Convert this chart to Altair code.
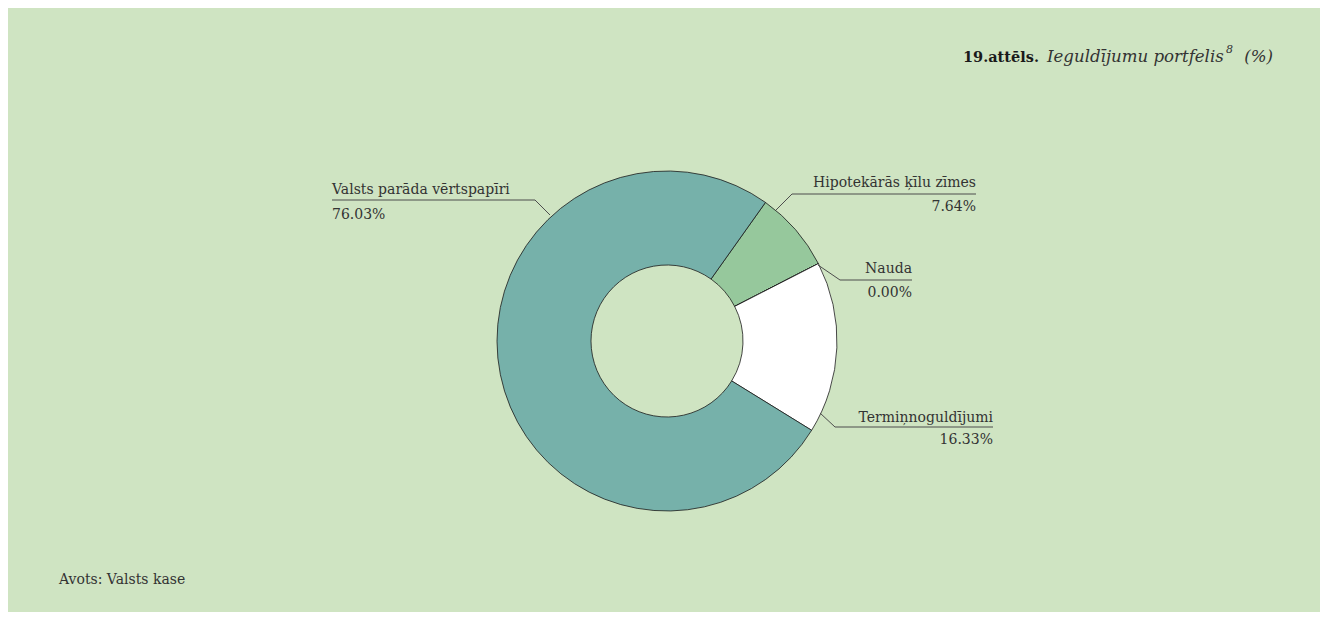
import math
import altair as alt
import pandas as pd

# ---- data ----
categories = ["Hipotekārās ķīlu zīmes", "Nauda", "Termiņnoguldījumi", "Valsts parāda vērtspapīri"]
values = [7.64, 0.00, 16.33, 76.03]
colors = ["#96c89c", "#96c89c", "#ffffff", "#76b1aa"]

title_bold = "19.attēls."
title_italic = "Ieguldījumu portfelis"
title_sup = "8"
title_tail = "(%)"
source_text = "Avots: Valsts kase"

# ---- layout (chart pixel coordinates) ----
W, H = 1312, 604
CX, CY = 659, 333
R_OUT, R_IN = 170, 76
START = math.radians(35.4)

FONT = "DejaVu Serif"
BG = "#cfe4c2"
TXT = "#333333"

pie_df = pd.DataFrame({"cat": categories, "val": values, "ord": list(range(len(categories)))})

pie = alt.Chart(pie_df).mark_arc(
    outerRadius=R_OUT, innerRadius=R_IN, stroke="#1a1a1a", strokeWidth=0.8
).encode(
    theta=alt.Theta("val:Q", stack=True, scale=alt.Scale(range=[START, START + 2 * math.pi])),
    color=alt.Color("cat:N", scale=alt.Scale(domain=categories, range=colors), legend=None),
    order=alt.Order("ord:Q"),
    x=alt.value(CX),
    y=alt.value(CY),
)

# label anchor positions: name baseline, pct baseline, text x, alignment
label_layout = {
    "Valsts parāda vērtspapīri": dict(x=324, yn=186, yp=211, align="left"),
    "Hipotekārās ķīlu zīmes": dict(x=968, yn=179, yp=203, align="right"),
    "Nauda": dict(x=904, yn=265, yp=289, align="right"),
    "Termiņnoguldījumi": dict(x=985, yn=414, yp=436, align="right"),
}
# leader segments: horizontal line then diagonal to slice
leader_layout = {
    "Valsts parāda vērtspapīri": [(324, 192, 527, 192), (527, 192, 542, 207)],
    "Hipotekārās ķīlu zīmes": [(784, 186, 968, 186), (784, 186, 768, 202)],
    "Nauda": [(832, 272, 904, 272), (832, 272, 810, 257)],
    "Termiņnoguldījumi": [(827, 419, 985, 419), (827, 419, 812, 405)],
}

rows = []
for c, v in zip(categories, values):
    L = label_layout[c]
    rows.append(dict(t=c, x=L["x"], y=L["yn"], align=L["align"]))
    rows.append(dict(t=f"{v:.2f}%", x=L["x"], y=L["yp"], align=L["align"]))
lab_df = pd.DataFrame(rows)

seg_rows = []
for c in categories:
    for (x1, y1, x2, y2) in leader_layout[c]:
        seg_rows.append(dict(x=x1, y=y1, x2=x2, y2=y2))
seg_df = pd.DataFrame(seg_rows)

leaders = alt.Chart(seg_df).mark_rule(color="#4d4d4d", strokeWidth=1).encode(
    x=alt.X("x:Q", scale=None), y=alt.Y("y:Q", scale=None),
    x2="x2:Q", y2="y2:Q",
)

def text_layer(df, align, color=TXT, **kw):
    return alt.Chart(df).mark_text(
        align=align, baseline="alphabetic", font=FONT, color=color, **kw
    ).encode(
        x=alt.X("x:Q", scale=None), y=alt.Y("y:Q", scale=None), text="t:N"
    )

labels_left = text_layer(lab_df[lab_df["align"] == "left"], "left", fontSize=14)
labels_right = text_layer(lab_df[lab_df["align"] == "right"], "right", fontSize=14)

title_df1 = pd.DataFrame([dict(t=title_bold, x=955, y=54)])
title_df2 = pd.DataFrame([dict(t=title_italic, x=1039, y=54)])
title_df3 = pd.DataFrame([dict(t=title_sup, x=1218, y=45)])
title_df4 = pd.DataFrame([dict(t=title_tail, x=1265, y=54)])
src_df = pd.DataFrame([dict(t=source_text, x=51, y=576)])

t1 = text_layer(title_df1, "left", color="#1a1a1a", fontSize=14.5, fontWeight="bold")
t2 = text_layer(title_df2, "left", fontSize=16.6, fontStyle="italic")
t3 = text_layer(title_df3, "left", fontSize=11, fontStyle="italic")
t4 = text_layer(title_df4, "right", fontSize=16.6, fontStyle="italic")
src = text_layer(src_df, "left", fontSize=14)

chart = alt.layer(pie, leaders, labels_left, labels_right, t1, t2, t3, t4, src).properties(
    width=W, height=H, padding=0, background=BG
).configure_view(strokeWidth=0)

chart.save("out.html", embed_options={"renderer": "svg", "actions": False})
